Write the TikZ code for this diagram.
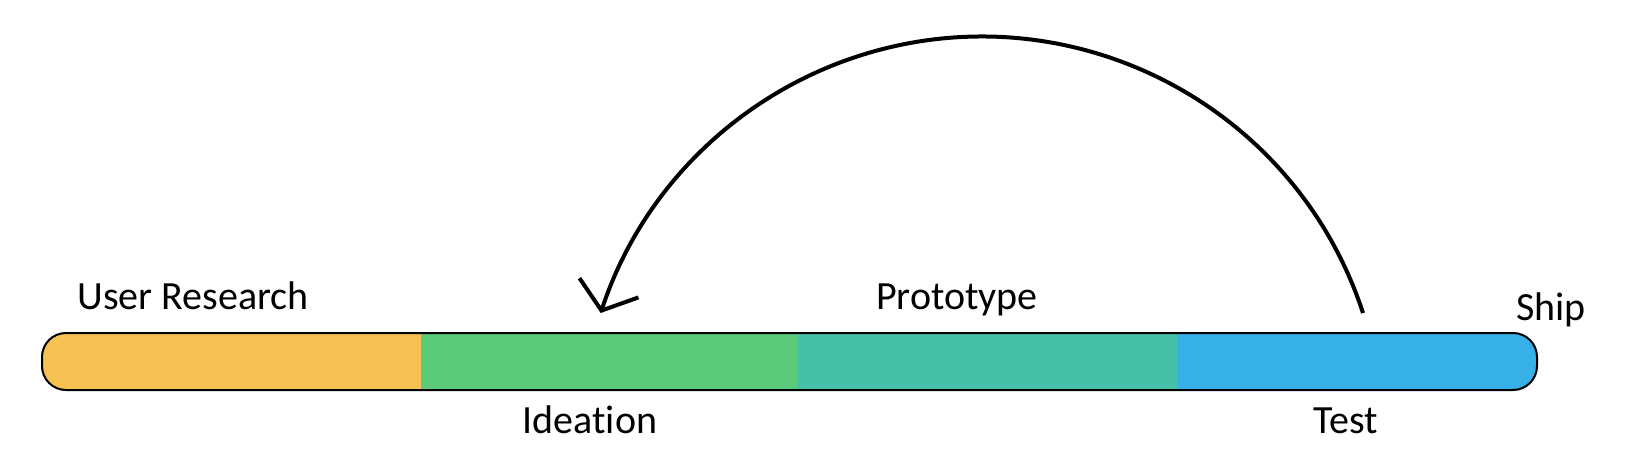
\documentclass[tikz,border=0pt]{standalone}
\usepackage{fontspec}
\setmainfont{Carlito}[Ligatures={NoCommon,NoRequired,NoContextual}]
\usetikzlibrary{arrows.meta}
\definecolor{researchyellow}{RGB}{246,194,84}
\definecolor{ideagreen}{RGB}{91,203,123}
\definecolor{prototeal}{RGB}{70,193,168}
\definecolor{testblue}{RGB}{54,176,230}

\begin{document}
\begin{tikzpicture}[x=0.5pt,y=-0.5pt,
    phase/.style={font=\fontsize{20}{24}\selectfont, anchor=base, inner sep=0pt}]
        \useasboundingbox (0,0) rectangle (1642,460);

        % Phase bar
        \begin{scope}
            \clip[rounded corners=12pt] (42,333) rectangle (1537,390);
            \fill[researchyellow] (42,333) rectangle (421,390);
            \fill[ideagreen] (421,333) rectangle (798,390);
            \fill[prototeal] (798,333) rectangle (1177,390);
            \fill[testblue] (1177,333) rectangle (1537,390);
        \end{scope}
        \draw[line width=1pt, rounded corners=12pt] (42,333) rectangle (1537,390);

        % Phase labels
        \node[phase] (research) at (193,309) {User Research};
        \node[phase] (ideation) at (590,433) {Ideation};
        \node[phase] (prototype) at (957,309) {Prototype};
        \node[phase] (test) at (1346,433) {Test};
        \node[phase] (ship) at (1551,320) {Ship};

        % Loop back from test to ideation
        \coordinate (loopfrom) at (1363,313);
        \draw[line width=2pt, -{Straight Barb[length=12pt,width=31pt]}]
            (loopfrom) arc[start angle=-18.1, end angle=-161.9, radius=401] coordinate (loopto);
    \end{tikzpicture}
\end{document}
